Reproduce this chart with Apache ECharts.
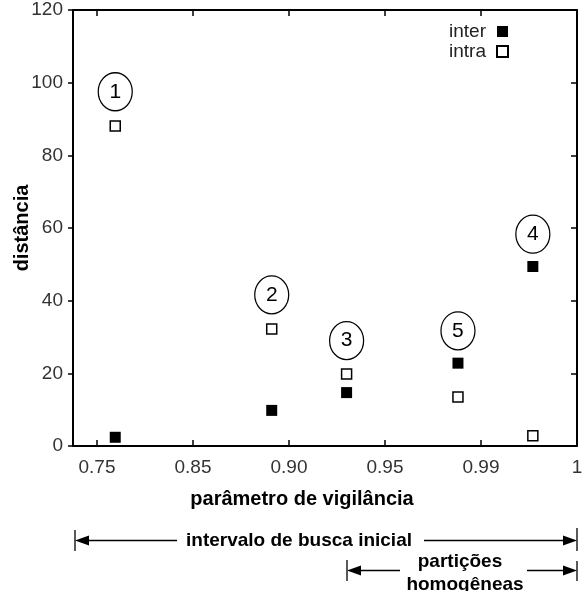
<!DOCTYPE html>
<html>
<head>
<meta charset="utf-8">
<script src="https://cdn.jsdelivr.net/npm/echarts@6/dist/echarts.min.js"></script>
<style>
  html, body { margin: 0; padding: 0; background: #fff; }
  #chart { width: 582px; height: 591px; }
</style>
</head>
<body>
<div id="chart"></div>
<script>
    'use strict';
    // x ticks are evenly spaced labels, not a linear scale
    var tickLabels = ['0.75', '0.85', '0.90', '0.95', '0.99', '1'];
    var tickPos = [0, 1, 2, 3, 4, 5];

    // point positions in tick units along the x axis
    var xPos = [0.19, 1.82, 2.60, 3.76, 4.54];
    var interVals = [2.4, 9.8, 14.7, 22.8, 49.4];
    var intraVals = [88.1, 32.2, 19.8, 13.5, 2.8];

    // circled labels
    var markNames = ['1', '2', '3', '5', '4'];
    var markVals = [97.5, 41.6, 29.0, 31.7, 58.3];

    var font = 'Liberation Sans, Arial, Helvetica, sans-serif';

    function pairs(xs, ys, names) {
        var out = [];
        for (var i = 0; i < xs.length; i++) {
            var p = { value: [xs[i], ys[i]] };
            if (names) p.name = names[i];
            out.push(p);
        }
        return out;
    }

    function arrowHead(x, y, dir) {
        // dir = -1 points left, 1 points right
        return {
            type: 'polygon',
            shape: { points: [[x, y], [x - dir * 14, y - 5], [x - dir * 14, y + 5]] },
            style: { fill: '#000' }
        };
    }
    function bar(x, y1, y2) {
        return { type: 'line', shape: { x1: x, y1: y1, x2: x, y2: y2 }, style: { stroke: '#000', lineWidth: 1.3 } };
    }
    function hline(x1, x2, y) {
        return { type: 'line', shape: { x1: x1, y1: y, x2: x2, y2: y }, style: { stroke: '#000', lineWidth: 1.3 } };
    }

    var lineStyle = { color: '#000', width: 2 };
    var tickStyle = { color: '#000', width: 1.5 };

    var option = {
        animation: false,
        backgroundColor: '#fff',
        grid: { left: 73, right: 5, top: 10, bottom: 145, containLabel: false, outerBoundsMode: 'none' },
        legend: {
            data: ['inter', 'intra'],
            orient: 'vertical',
            right: 68,
            top: 17,
            align: 'right',
            icon: 'rect',
            itemWidth: 11,
            itemHeight: 11,
            itemGap: 1,
            textStyle: { fontSize: 19, color: '#222', fontFamily: font, padding: [0, 6, 0, 0] }
        },
        xAxis: [{
            type: 'value',
            min: -0.25,
            max: 5,
            position: 'bottom',
            splitLine: { show: false },
            axisLine: { show: true, onZero: false, lineStyle: lineStyle },
            axisTick: { show: true, inside: true, length: 6, customValues: tickPos, lineStyle: tickStyle },
            axisLabel: {
                customValues: tickPos,
                margin: 12,
                fontSize: 19,
                color: '#333',
                fontFamily: font,
                formatter: function(v) { return tickLabels[Math.round(v)]; }
            }
        }, {
            type: 'value',
            min: -0.25,
            max: 5,
            position: 'top',
            splitLine: { show: false },
            axisLine: { show: true, onZero: false, lineStyle: lineStyle },
            axisTick: { show: true, inside: true, length: 6, customValues: tickPos, lineStyle: tickStyle },
            axisLabel: { show: false }
        }],
        yAxis: [{
            type: 'value',
            min: 0,
            max: 120,
            interval: 20,
            position: 'left',
            name: 'distância',
            nameLocation: 'middle',
            nameGap: 41,
            nameMoveOverlap: false,
            nameTextStyle: { fontSize: 20, fontWeight: 'bold', color: '#000', fontFamily: font },
            splitLine: { show: false },
            axisLine: { show: true, onZero: false, lineStyle: lineStyle },
            axisTick: { show: true, length: 5, lineStyle: tickStyle },
            axisLabel: { margin: 10, fontSize: 19, color: '#333', fontFamily: font }
        }, {
            type: 'value',
            min: 0,
            max: 120,
            interval: 20,
            position: 'right',
            splitLine: { show: false },
            axisLine: { show: true, onZero: false, lineStyle: lineStyle },
            axisTick: { show: true, inside: true, length: 6, lineStyle: tickStyle },
            axisLabel: { show: false }
        }],
        series: [{
            name: 'inter',
            type: 'scatter',
            symbol: 'rect',
            symbolSize: 11,
            itemStyle: { color: '#000', opacity: 1 },
            data: pairs(xPos, interVals)
        }, {
            name: 'intra',
            type: 'scatter',
            symbol: 'rect',
            symbolSize: 10,
            itemStyle: { color: '#fff', borderColor: '#000', borderWidth: 1.5, opacity: 1 },
            data: pairs(xPos, intraVals)
        }, {
            name: 'marks',
            type: 'scatter',
            symbol: 'circle',
            symbolSize: [34, 38],
            itemStyle: { color: 'rgba(255,255,255,0)', borderColor: '#000', borderWidth: 1.3, opacity: 1 },
            label: {
                show: true,
                position: 'inside',
                formatter: '{b}',
                fontSize: 21,
                color: '#000',
                fontFamily: font
            },
            data: pairs(xPos, markVals, markNames)
        }],
        graphic: [
            { type: 'text', x: 302, y: 499, style: { text: 'parâmetro de vigilância', font: 'bold 20px ' + font, fill: '#000', textAlign: 'center', textVerticalAlign: 'middle' } },

            bar(75, 530, 551), arrowHead(75, 540.5, -1), hline(89, 177, 540.5),
            { type: 'text', x: 299, y: 540.5, style: { text: 'intervalo de busca inicial', font: 'bold 19px ' + font, fill: '#000', textAlign: 'center', textVerticalAlign: 'middle' } },
            hline(424, 563, 540.5), arrowHead(577, 540.5, 1), bar(577, 528, 551),

            bar(347, 560, 581), arrowHead(347, 570.5, -1), hline(361, 400, 570.5),
            { type: 'text', x: 460, y: 561.5, style: { text: 'partições', font: 'bold 19px ' + font, fill: '#000', textAlign: 'center', textVerticalAlign: 'middle' } },
            { type: 'text', x: 465, y: 584.5, style: { text: 'homogêneas', font: 'bold 19px ' + font, fill: '#000', textAlign: 'center', textVerticalAlign: 'middle' } },
            hline(527, 563, 570.5), arrowHead(577, 570.5, 1), bar(577, 561, 581)
        ]
    };

    var myChart = echarts.init(document.getElementById('chart'));
    myChart.setOption(option);
</script>
</body>
</html>
